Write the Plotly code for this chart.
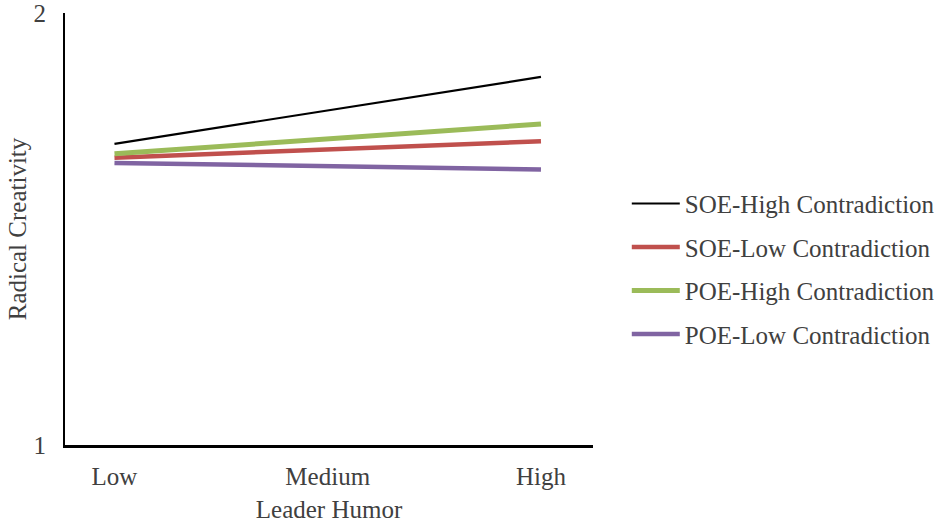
import plotly.graph_objects as go

categories = ["Low", "Medium", "High"]
x_points = ["Low", "High"]
series_names = ["SOE-High Contradiction", "SOE-Low Contradiction",
                "POE-High Contradiction", "POE-Low Contradiction"]
soe_high = [1.697, 1.852]
soe_low = [1.665, 1.703]
poe_high = [1.674, 1.743]
poe_low = [1.653, 1.638]
y_ticks = [1, 2]

colors = ["#000000", "#C0504D", "#9BBB59", "#8064A2"]
widths = [2.2, 4.5, 5, 4.5]
values = [soe_high, soe_low, poe_high, poe_low]

fig = go.Figure()
for i in range(4):
    fig.add_trace(go.Scatter(
        x=x_points, y=values[i], mode="lines", name=series_names[i],
        line=dict(color=colors[i], width=widths[i]),
        legendrank=i + 1, legendgroup="g%d" % i,
    ))

font_fam = "Liberation Serif, Times New Roman, serif"
txt = "#404040"
fig.update_layout(
    width=945, height=523,
    margin=dict(l=65, r=352, t=13, b=78, autoexpand=False),
    plot_bgcolor="white", paper_bgcolor="white",
    font=dict(family=font_fam, size=25, color=txt),
    legend=dict(x=1.064, y=0.408, xanchor="left", yanchor="middle",
                font=dict(size=25, color=txt), tracegroupgap=8,
                itemwidth=48),
    showlegend=True,
)
fig.update_xaxes(
    type="category", categoryorder="array", categoryarray=categories,
    range=[-0.232, 2.244], showgrid=False, zeroline=False,
    showline=True, linecolor="black", linewidth=2.5,
    ticks="", ticklabelstandoff=7, automargin=False,
    title=dict(text="Leader Humor", standoff=13, font=dict(size=25, color=txt)),
)
fig.update_yaxes(
    range=[1, 2], tickvals=y_ticks, ticktext=[str(v) for v in y_ticks],
    showgrid=False, zeroline=False,
    showline=True, linecolor="black", linewidth=2,
    ticks="", ticklabelstandoff=12, automargin=False,
    ticklabeloverflow="allow",
    title=dict(text="Radical Creativity", standoff=0, font=dict(size=25, color=txt)),
)

fig.write_html("out.html", config={"displayModeBar": False},
               post_script="document.body.style.margin='0';")
